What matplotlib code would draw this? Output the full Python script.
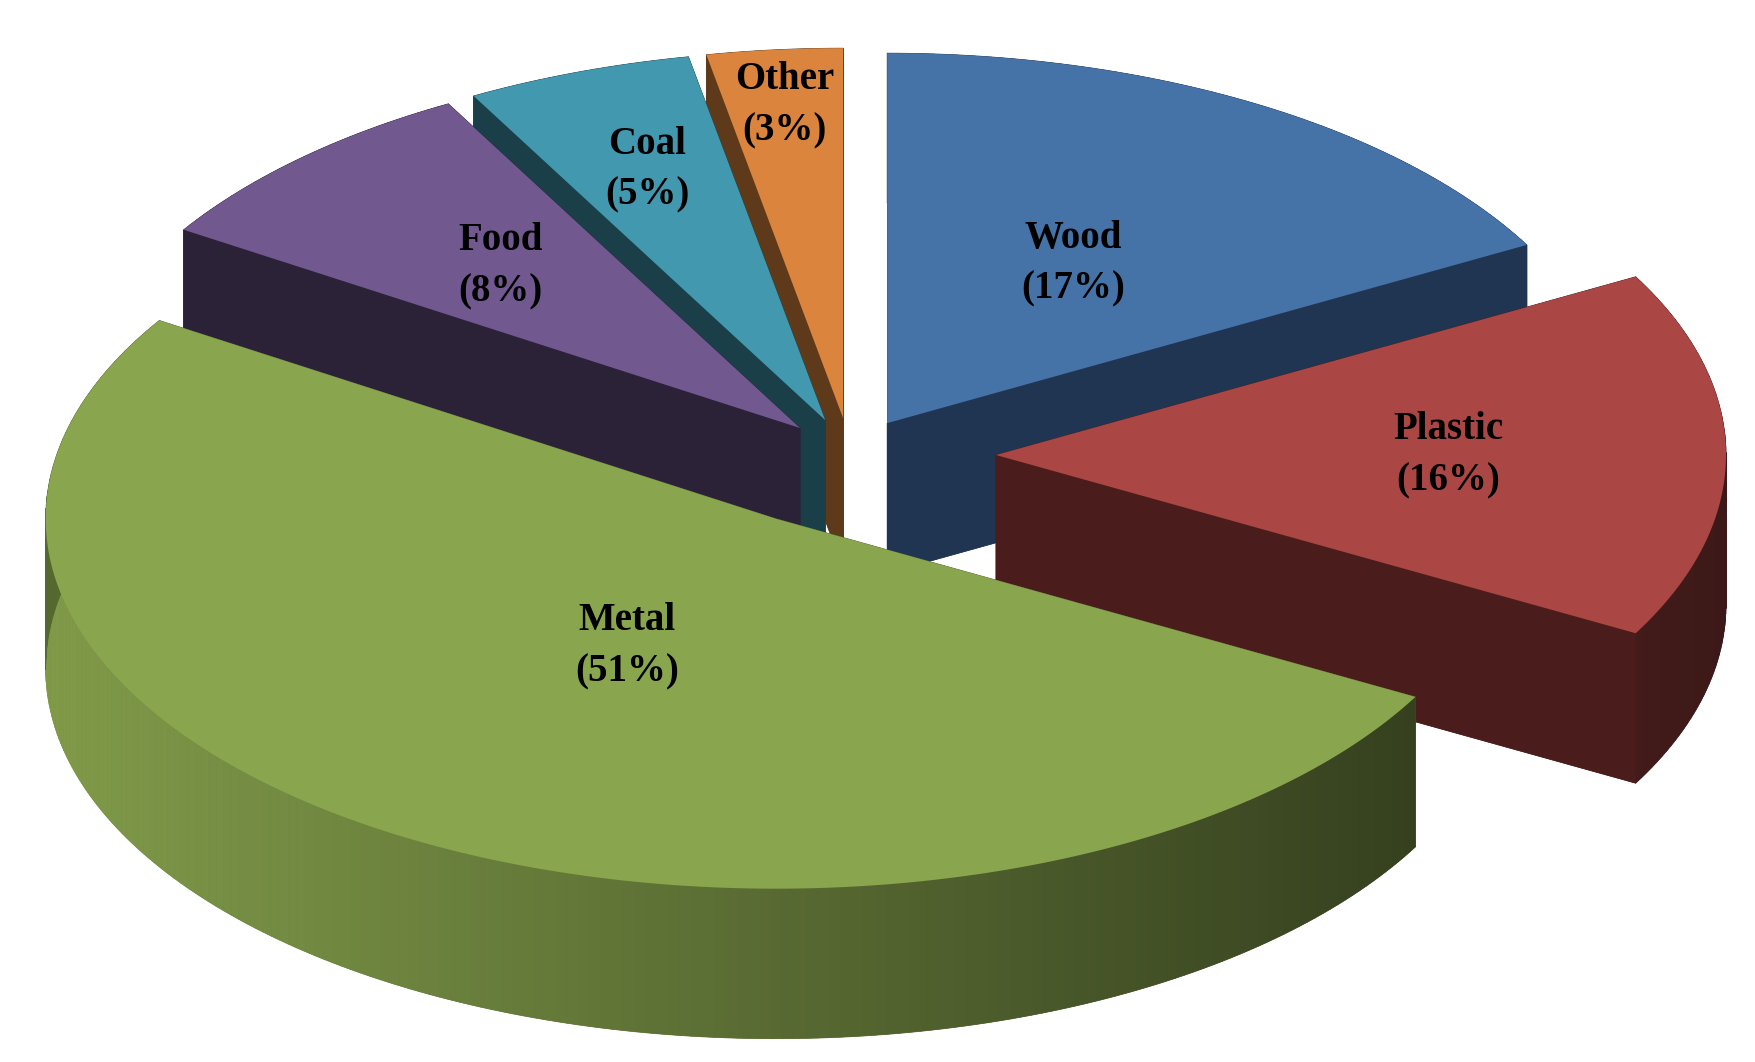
import numpy as np
import matplotlib
matplotlib.use("Agg")
import matplotlib.pyplot as plt
from matplotlib.patches import Polygon

labels = ["Wood", "Plastic", "Metal", "Food", "Coal", "Other"]
values = [17, 16, 51, 8, 5, 3]
top_colors = ["#4572A7", "#AA4643", "#89A54E", "#71588F", "#4198AF", "#DB843D"]
side_colors = ["#1F3552", "#4A1C1C", "#55682F", "#2B2238", "#1A3F48", "#5E3A1B"]
explode = [0.10, 0.20, 0.20, 0.10, 0.10, 0.10]
label_r = [0.50, 0.62, 0.40, 0.60, 0.72, 0.85]

# projection of the pie (pixel space)
cx, cy, rx, ry, depth = 850, 455, 730, 370, 150


def proj(u, v, dz=0.0):
    return cx + rx * u, cy - ry * v + dz


def shade(c, f):
    c = np.array(matplotlib.colors.to_rgb(c))
    return tuple(np.clip(c * f, 0, 1))


fig = plt.figure(figsize=(17.56, 10.62), dpi=100)
ax = fig.add_axes([0, 0, 1, 1])
ax.set_xlim(0, 1756)
ax.set_ylim(1062, 0)
ax.axis("off")

total = sum(values)
starts = np.cumsum([0] + values[:-1]) / total * 360.0
slices = []
for i, val in enumerate(values):
    a0 = 90 - starts[i]
    a1 = a0 - val / total * 360.0
    mid = np.radians((a0 + a1) / 2)
    ox, oy = explode[i] * np.cos(mid), explode[i] * np.sin(mid)
    t = np.radians(np.linspace(a0, a1, max(int(val * 4), 8)))
    slices.append((i, t, ox, oy, mid))

# back to front
slices.sort(key=lambda s: s[3] + 0.5 * np.sin(s[4]), reverse=True)

for i, t, ox, oy, mid in slices:
    us = np.concatenate([[ox], ox + np.cos(t)])
    vs = np.concatenate([[oy], oy + np.sin(t)])
    top = np.array([proj(u, v) for u, v in zip(us, vs)])
    bot = top + np.array([0, depth])
    ax.add_patch(Polygon(bot, closed=True, fc=side_colors[i], ec="none", zorder=1))
    n = len(top)
    for k in range(n):
        p, q = top[k], top[(k + 1) % n]
        quad = [p, q, q + [0, depth], p + [0, depth]]
        col = side_colors[i]
        if 0 < k < n - 1 and np.sin((t[k - 1] + t[k]) / 2) < 0:
            # outer rim, lit from the left
            f = 1.2 - 0.75 * (np.cos((t[k - 1] + t[k]) / 2) + 1) / 2
            col = shade(top_colors[i], f * 0.78)
        ax.add_patch(Polygon(quad, closed=True, fc=col, ec=col, lw=0.5, zorder=1))
    ax.add_patch(Polygon(top, closed=True, fc=top_colors[i], ec="none", zorder=1))
    lx, ly = proj(ox + label_r[i] * np.cos(mid), oy + label_r[i] * np.sin(mid))
    ax.text(lx, ly, f"{labels[i]}\n({values[i]}%)", ha="center", va="center",
            fontsize=28, fontweight="bold", family="Liberation Serif",
            linespacing=1.5, zorder=5)

fig.savefig("out.png", dpi=100)
